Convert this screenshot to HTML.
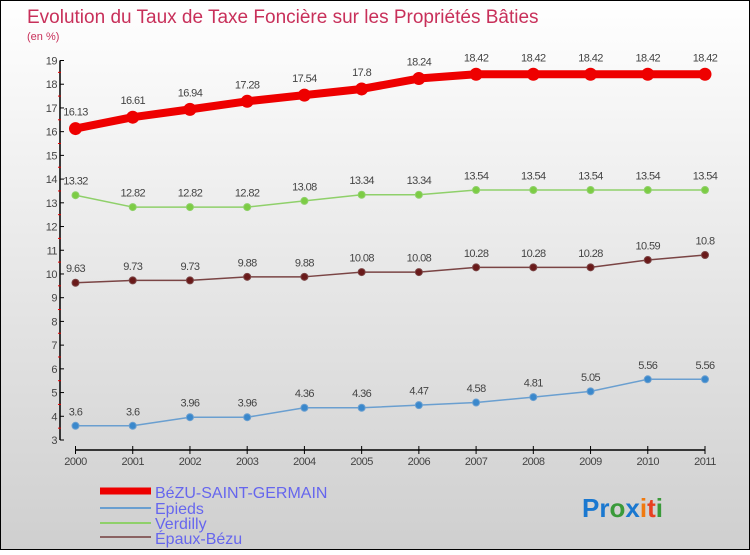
<!DOCTYPE html>
<html><head><meta charset="utf-8"><style>
body{margin:0;width:750px;height:550px;overflow:hidden}
svg text{font-family:"Liberation Sans",sans-serif}
</style></head><body>
<svg id="c" width="750" height="550" xmlns="http://www.w3.org/2000/svg">
<defs><linearGradient id="bg" x1="0" y1="0" x2="0" y2="1"><stop offset="0" stop-color="#ffffff"/><stop offset="1" stop-color="#cfcfcf"/></linearGradient></defs>
<rect x="0.5" y="0.5" width="749" height="549" fill="url(#bg)" stroke="#000"/>
<text x="27" y="23" font-size="19" fill="#c8305a">Evolution du Taux de Taxe Foncière sur les Propriétés Bâties</text>
<text x="27" y="40" font-size="11" fill="#c8305a">(en %)</text>
<g id="axes"></g><g id="series"></g>
<g>
<line x1="100" y1="491" x2="151" y2="491" stroke="#ee0000" stroke-width="7"/>
<text x="155" y="498" font-size="16" fill="#6666ee">BéZU-SAINT-GERMAIN</text>
<line x1="100" y1="508" x2="151" y2="508" stroke="#6a9fd0" stroke-width="2"/>
<text x="155" y="514" font-size="16" fill="#6666ee">Epieds</text>
<line x1="100" y1="523" x2="151" y2="523" stroke="#8fd06a" stroke-width="2"/>
<text x="155" y="529" font-size="16" fill="#6666ee">Verdilly</text>
<line x1="100" y1="537" x2="151" y2="537" stroke="#8a6262" stroke-width="2"/>
<text x="155" y="544" font-size="16" fill="#6666ee">Épaux-Bézu</text>
</g>
<g font-size="26" font-weight="bold">
<text x="582" y="517"><tspan fill="#1a78d0">Pr</tspan><tspan fill="#3a9a3a">o</tspan><tspan fill="#1a78d0">x</tspan><tspan fill="#f07a10">i</tspan><tspan fill="#e84020">t</tspan><tspan fill="#3a9a3a">i</tspan></text>
</g>
</svg>
<script>
const years=[2000,2001,2002,2003,2004,2005,2006,2007,2008,2009,2010,2011];
const bezu=[16.13,16.61,16.94,17.28,17.54,17.8,18.24,18.42,18.42,18.42,18.42,18.42];
const verdilly=[13.32,12.82,12.82,12.82,13.08,13.34,13.34,13.54,13.54,13.54,13.54,13.54];
const epaux=[9.63,9.73,9.73,9.88,9.88,10.08,10.08,10.28,10.28,10.28,10.59,10.8];
const epieds=[3.6,3.6,3.96,3.96,4.36,4.36,4.47,4.58,4.81,5.05,5.56,5.56];
const yTicks=[3,4,5,6,7,8,9,10,11,12,13,14,15,16,17,18,19];
const NS="http://www.w3.org/2000/svg";
const X=i=>75.5+i*(705-75.5)/(years.length-1);
const Y=v=>440-(v-3)*(440-60.5)/16;
function mk(t,a,p){const e=document.createElementNS(NS,t);for(const k in a)e.setAttribute(k,a[k]);p.appendChild(e);return e;}
const ax=document.getElementById('axes');
const ya=mk('line',{x1:60,y1:Y(19),x2:60,y2:Y(3),stroke:'#000','stroke-width':1.5},ax);


yTicks.forEach(v=>{
 mk('line',{x1:60,y1:Y(v),x2:64,y2:Y(v),stroke:'#000'},ax);
 if(v<19)mk('line',{x1:58,y1:Y(v+0.5),x2:61,y2:Y(v+0.5),stroke:'#e00000'},ax);
 const t=mk('text',{x:57,y:Y(v)+4,'font-size':11,fill:'#444','text-anchor':'end','letter-spacing':'-0.5'},ax);
 t.textContent=v;
 
 
});
const xa=mk('line',{x1:X(0),y1:450,x2:X(11),y2:450,stroke:'#000','stroke-width':1.5},ax);


years.forEach((y,i)=>{
 mk('line',{x1:X(i),y1:446,x2:X(i),y2:454,stroke:'#000'},ax);
 const t=mk('text',{x:X(i),y:465,'font-size':11,fill:'#444','text-anchor':'middle','letter-spacing':'-0.5'},ax);
 t.textContent=y;
 
 
});
const sg=document.getElementById('series');
function draw(name,vals,col,lw,r,fill){
 const g=mk('g',{},sg);
 
 
 const pl=mk('polyline',{points:vals.map((v,i)=>X(i)+','+Y(v)).join(' '),fill:'none',stroke:col,'stroke-width':lw,'stroke-linejoin':'round'},g);
 
 
 vals.forEach((v,i)=>{
  const c=mk('circle',{cx:X(i),cy:Y(v),r:r,fill:fill,stroke:col,'stroke-width':1},g);
  
  
  const t=mk('text',{x:X(i),y:Y(v)-(r+7),'font-size':11,fill:'#444','text-anchor':'middle','letter-spacing':'-0.6'},g);
  t.textContent=v;
  
  
 });
}
draw('bezu',bezu,'#ee0000',8,6,'#ee0000');
draw('verdilly',verdilly,'#8fd06a',1.5,3.5,'#7ccc44');
draw('epaux',epaux,'#7a4444',1.5,3.5,'#6a1a1a');
draw('epieds',epieds,'#6a9fd0',1.5,3.5,'#3a88cc');
</script>
</body></html>
